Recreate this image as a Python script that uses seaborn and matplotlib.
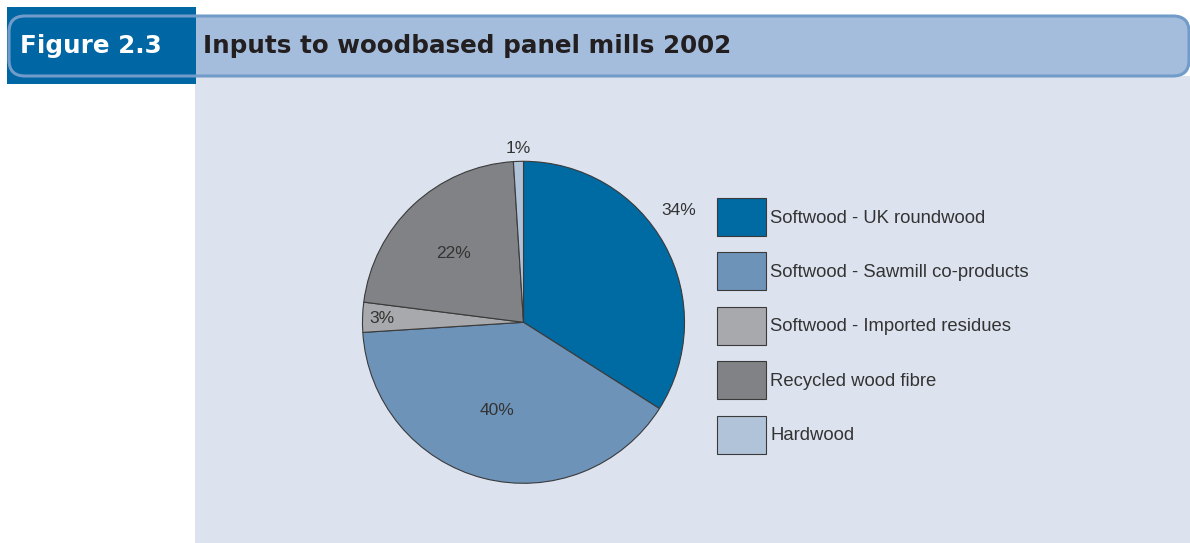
"""
Figure 2.3 - Inputs to woodbased panel mills 2002
"""

import matplotlib
matplotlib.use('Agg')
import matplotlib.pyplot as plt
import seaborn as sns
import numpy as np
from matplotlib.patches import Rectangle, FancyBboxPatch

# 数据
categories = ['Softwood - UK roundwood', 'Softwood - Sawmill co-products',
              'Softwood - Imported residues', 'Recycled wood fibre', 'Hardwood']
shares = [34, 40, 3, 22, 1]
pct_labels = ['34%', '40%', '3%', '22%', '1%']

# 样式
colors = ['#006aa3', '#6d93b9', '#a7a9ac', '#808285', '#b1c3d8']
label_radius = [1.19, 0.57, 0.88, 0.61, 1.08]
label_shift = [6.9, -2.7, 0.2, 2.6, -0.2]

W, H = 1190, 543
sns.set_theme(style='white')
plt.rcParams['font.family'] = ['Liberation Sans', 'DejaVu Sans']

fig = plt.figure(figsize=(W / 100, H / 100), dpi=100, facecolor='white')

def px(x0, y0, x1, y1):
    # 像素框 -> figure 坐标
    return [x0 / W, 1 - y1 / H, (x1 - x0) / W, (y1 - y0) / H]

# 背景面板
bg = fig.add_axes([0, 0, 1, 1])
bg.set_xlim(0, W)
bg.set_ylim(H, 0)
bg.axis('off')
bg.add_patch(Rectangle((195, 76), W - 195, H - 76, facecolor='#dce3ef', edgecolor='none'))
bg.add_patch(Rectangle((7, 7), 189, 77, facecolor='#0066a4', edgecolor='none'))
bg.add_patch(FancyBboxPatch((196, 16), 994, 60, boxstyle='round,pad=0,rounding_size=14',
                            facecolor='#a5bddd', edgecolor='none'))
bg.add_patch(Rectangle((196, 16), 40, 60, facecolor='#a5bddd', edgecolor='none'))
bg.add_patch(FancyBboxPatch((9, 16), 1180, 60, boxstyle='round,pad=0,rounding_size=16',
                            facecolor='none', edgecolor='#719cca', linewidth=2.2))
bg.text(20, 53, 'Figure 2.3', color='white', fontsize=17.7, fontweight='bold',
        va='baseline', ha='left', family='DejaVu Sans')
bg.text(203, 53, 'Inputs to woodbased panel mills 2002', color='#231f20',
        fontsize=17.7, fontweight='bold', va='baseline', ha='left', family='DejaVu Sans')

# 饼图
R = 161
cx, cy = 523.5, 322.3
half = 200
ax = fig.add_axes(px(cx - half, cy - half, cx + half, cy + half))
wedges, _ = ax.pie(shares, colors=colors, startangle=90, counterclock=False,
                   radius=1, wedgeprops=dict(edgecolor='#3a3a3a', linewidth=0.8))
ax.set_xlim(-half / R, half / R)
ax.set_ylim(-half / R, half / R)
ax.set_aspect('equal')
ax.axis('off')

for w, lab, r, d in zip(wedges, pct_labels, label_radius, label_shift):
    ang = np.deg2rad((w.theta1 + w.theta2) / 2 + d)
    ax.text(r * np.cos(ang), r * np.sin(ang), lab, ha='center', va='center',
            fontsize=12.5, color='#333333')

# 图例
fs = 13.3
fsp = fs * 100 / 72
leg = fig.legend(wedges, categories, loc='upper left',
                 bbox_to_anchor=(717 / W, 1 - 198 / H), frameon=False,
                 borderpad=0, borderaxespad=0, fontsize=fs,
                 handlelength=49 / fsp, handleheight=2.86 * 13 / fs,
                 labelspacing=16.3 / fsp, handletextpad=4 / fsp)
for t in leg.get_texts():
    t.set_color('#333333')

plt.savefig('out.png', dpi=100)
